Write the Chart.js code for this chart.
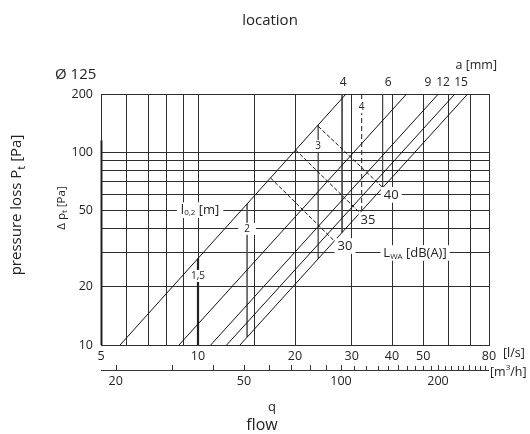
<!DOCTYPE html>
<html><head><meta charset="utf-8">
<script src="https://cdn.jsdelivr.net/npm/chart.js@4/dist/chart.umd.min.js"></script>
<style>html,body{margin:0;padding:0;background:#fff}#wrap{width:530px;height:434px}</style>
</head><body><div id="wrap"><canvas id="c" width="530" height="434"></canvas></div>
<script>
// ---- data ----
const flowGrid = [5,6,7,8,9,10,15,20,30,40,50,60,70,80];          // l/s grid lines
const flowLabels = [5,10,20,30,40,50,80];
const pressureGrid = [10,20,30,40,50,60,70,80,90,100,200];        // Pa grid lines
const pressureLabels = [10,20,50,100,200];
const m3hTicks = [20,30,40,50,60,70,80,90,100,110,120,130,140,150,160,170,180,190,200,210,220,230,240,250,260,270,280];
const m3hLabels = [20,50,100,200];
const slotWidths = [4,6,9,12,15];                 // a [mm]
const slotFlowLow = [5.73,8.73,10.95,12.27,13.5]; // flow at 10 Pa
const slotFlowHigh = [28.8,44.4,55.7,62.7,68.7];  // flow at 200 Pa
const soundLevels = [30,35,40];                   // L_WA [dB(A)]
const soundStartFlow = [16.8,20.1,23.6];
const soundStartPressure = [73.4,102.5,136];
const soundEndFlow = [26.5,31.8,37.4];
const soundEndPressure = [34.6,48.4,65.6];
const throwLengths = ['1,5','2','3','4'];         // l0,2 [m]
const throwFlow = [10,14.2,23.6,32.2];
const throwTopPressure = [28.1,53.8,138,200];
const throwBottomPressure = [10,11.0,28.0,49.5];
const extraFlow = [28,37.4];
const extraTopPressure = [200,200];
const extraBottomPressure = [38.3,65.3];

const FONT = "'Open Sans', sans-serif";
const INK = '#222';
const throwStyle = {'1,5':{w:2.2,c:'#222',d:[]},'2':{w:1.6,c:'#555',d:[]},'3':{w:1.2,c:'#333',d:[]},'4':{w:1.1,c:'#333',d:[5,3]}};

const datasets = [];
slotWidths.forEach((a,i)=>datasets.push({label:'a '+a,data:[{x:slotFlowLow[i],y:10},{x:slotFlowHigh[i],y:200}],borderColor:'#111',borderWidth:1}));
soundLevels.forEach((l,i)=>datasets.push({label:'LWA '+l,data:[{x:soundStartFlow[i],y:soundStartPressure[i]},{x:soundEndFlow[i],y:soundEndPressure[i]}],borderColor:'#111',borderWidth:1,borderDash:[4,2]}));
throwLengths.forEach((t,i)=>datasets.push({label:'l '+t,data:[{x:throwFlow[i],y:throwTopPressure[i]},{x:throwFlow[i],y:throwBottomPressure[i]}],borderColor:throwStyle[t].c,borderWidth:throwStyle[t].w,borderDash:throwStyle[t].d}));
extraFlow.forEach((f,i)=>datasets.push({label:'m'+i,data:[{x:f,y:extraTopPressure[i]},{x:f,y:extraBottomPressure[i]}],borderColor:'#444',borderWidth:0.9}));

function drawParts(ctx, parts, x, y, align, bg, pad){
  let w=0; parts.forEach(p=>{ctx.font=p.size+'px '+FONT; p.w=ctx.measureText(p.t).width; w+=p.w;});
  let sx = align==='center'? x-w/2 : align==='right'? x-w : x;
  if(bg){ const h=parts[0].size; ctx.fillStyle='#fff'; ctx.fillRect(sx-pad, y-h*0.6, w+2*pad, h*1.2); }
  ctx.fillStyle=INK; ctx.textBaseline='middle'; ctx.textAlign='left';
  parts.forEach(p=>{ctx.font=p.size+'px '+FONT; ctx.fillText(p.t, sx, y+(p.dy||0)); sx+=p.w;});
}

const overlay = {
  id:'overlay',
  afterDatasetsDraw(chart){
    const {ctx, scales:{x,y}} = chart;
    const X=v=>x.getPixelForValue(v), Y=v=>y.getPixelForValue(v);
    ctx.save();
    ctx.strokeStyle='#222'; ctx.lineWidth=2;
    ctx.beginPath(); ctx.moveTo(X(5)+0.5,Y(115)); ctx.lineTo(X(5)+0.5,Y(10)); ctx.stroke();
    drawParts(ctx,[{t:'l',size:13},{t:'0,2',size:8,dy:3},{t:' [m]',size:13}],X(10.15),Y(50),'center',true,4);
    drawParts(ctx,[{t:'2',size:10}],X(14.2),Y(40),'center',true,6);
    drawParts(ctx,[{t:'1,5',size:10}],X(10),Y(22.8),'center',true,1);
    drawParts(ctx,[{t:'3',size:10}],X(23.6),Y(107.6),'center',true,1);
    drawParts(ctx,[{t:'4',size:10}],X(32.2),Y(171),'center',true,1);
    drawParts(ctx,[{t:'40',size:13}],X(39.8),Y(60),'center',true,3);
    drawParts(ctx,[{t:'35',size:13}],X(33.7),Y(44.5),'center',true,2);
    drawParts(ctx,[{t:'30',size:13}],X(28.6),Y(32.6),'center',true,3);
    drawParts(ctx,[{t:'L',size:13},{t:'WA',size:8,dy:4},{t:' [dB(A)]',size:13}],X(37.6),Y(30),'left',true,3);
    const aPos=[28.2,38.9,51.7,57.6,65.5];
    slotWidths.forEach((a,i)=>drawParts(ctx,[{t:String(a),size:12}],X(aPos[i]),83,'center',false));
    drawParts(ctx,[{t:'a [mm]',size:12.5}],497,65,'right',false);
    drawParts(ctx,[{t:'Ø 125',size:15}],55,75,'left',false);
    drawParts(ctx,[{t:'[l/s]',size:12.5}],503,353,'left',false);
    const ay=370;
    ctx.strokeStyle='#333'; ctx.lineWidth=1;
    ctx.beginPath(); ctx.moveTo(X(5),ay+0.5); ctx.lineTo(X(80),ay+0.5); ctx.stroke();
    m3hTicks.forEach(v=>{const px=Math.round(X(v/3.6))+0.5; const len=(v<=100||v%50===0)?5:4;
      ctx.beginPath(); ctx.moveTo(px,ay); ctx.lineTo(px,ay-len); ctx.stroke();});
    m3hLabels.forEach(v=>drawParts(ctx,[{t:String(v),size:12.5}],X(v/3.6),381,'center',false));
    drawParts(ctx,[{t:'[m',size:12.5},{t:'3',size:8,dy:-4},{t:'/h]',size:12.5}],490,372,'left',false);
    drawParts(ctx,[{t:'location',size:15}],270,21,'center',false);
    drawParts(ctx,[{t:'q',size:13}],272,407,'center',false);
    drawParts(ctx,[{t:'flow',size:16}],262,425,'center',false);
    ctx.save(); ctx.translate(17,205); ctx.rotate(-Math.PI/2);
    drawParts(ctx,[{t:'pressure loss P',size:15},{t:'t',size:11,dy:5},{t:' [Pa]',size:15}],0,0,'center',false);
    ctx.restore();
    ctx.save(); ctx.translate(62,208); ctx.rotate(-Math.PI/2);
    drawParts(ctx,[{t:'Δ p',size:11.5},{t:'t',size:8,dy:3},{t:' [Pa]',size:11.5}],0,0,'center',false);
    ctx.restore();
    ctx.restore();
  }
};

new Chart(document.getElementById('c'),{
  type:'scatter',
  data:{datasets: datasets.map(d=>Object.assign({showLine:true,pointRadius:0,pointHoverRadius:0,fill:false,tension:0},d))},
  options:{
    responsive:false, animation:false, events:[],
    layout:{padding:{left:0,right:41,top:94,bottom:0}},
    plugins:{legend:{display:false},tooltip:{enabled:false},title:{display:false}},
    scales:{
      x:{type:'logarithmic',min:5,max:80,position:'bottom',
        afterBuildTicks:s=>{s.ticks=flowGrid.map(v=>({value:v}));},
        afterFit:s=>{s.height=89;},
        grid:{color:'#2e2e2e',lineWidth:1,drawTicks:false},
        border:{color:'#2e2e2e',width:1},
        ticks:{autoSkip:false,maxRotation:0,minRotation:0,padding:4,color:INK,font:{family:FONT,size:12.5},
          callback:v=>flowLabels.includes(v)?String(v):''}
      },
      y:{type:'logarithmic',min:10,max:200,
        afterBuildTicks:s=>{s.ticks=pressureGrid.map(v=>({value:v}));},
        afterFit:s=>{s.width=101;},
        grid:{color:'#2e2e2e',lineWidth:1,drawTicks:false},
        border:{color:'#2e2e2e',width:1},
        ticks:{autoSkip:false,padding:8,color:INK,font:{family:FONT,size:12.5},
          callback:v=>pressureLabels.includes(v)?String(v):''}
      }
    }
  },
  plugins:[overlay]
});
</script></body></html>
